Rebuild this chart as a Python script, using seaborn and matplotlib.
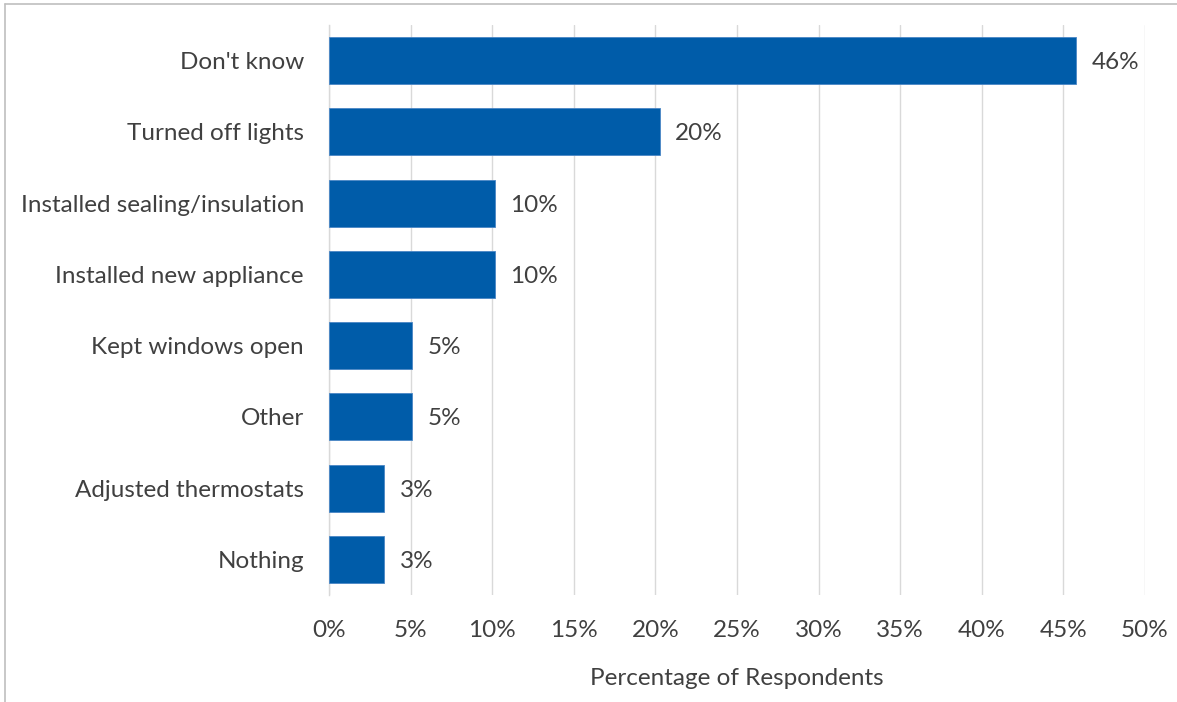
import matplotlib
matplotlib.use("Agg")
import matplotlib.pyplot as plt
import seaborn as sns
import pandas as pd
from matplotlib.lines import Line2D

categories = [
    "Don't know",
    "Turned off lights",
    "Installed sealing/insulation",
    "Installed new appliance",
    "Kept windows open",
    "Other",
    "Adjusted thermostats",
    "Nothing",
]
percentages = [45.8, 20.3, 10.2, 10.2, 5.1, 5.1, 3.4, 3.4]
x_ticks = [0, 5, 10, 15, 20, 25, 30, 35, 40, 45, 50]

df = pd.DataFrame({"action": categories, "pct": percentages})

sns.set_theme(style="white")
plt.rcParams["font.family"] = ["Lato", "DejaVu Sans"]

text_color = "#404040"
bar_color = "#005CA9"
grid_color = "#D9D9D9"
fs = 17.5

fig = plt.figure(figsize=(11.77, 7.02), dpi=100)
ax = fig.add_axes([0.2795, 0.1524, 0.9728 - 0.2795, 0.9644 - 0.1524])

sns.barplot(data=df, y="action", x="pct", orient="h", color=bar_color,
            width=0.66, edgecolor="#4A86C5", linewidth=0.6, saturation=1,
            ax=ax, zorder=3)

ax.set_xlim(0, 50)
ax.set_xticks(x_ticks)
ax.set_xticklabels([f"{t}%" for t in x_ticks], fontsize=fs, color=text_color)
ax.tick_params(axis="x", pad=18, length=0)
ax.tick_params(axis="y", pad=18, length=0, labelsize=fs, labelcolor=text_color)
ax.xaxis.grid(True, color=grid_color, linewidth=1.0, zorder=0)
ax.set_axisbelow(True)
for side in ["top", "right", "bottom"]:
    ax.spines[side].set_visible(False)
ax.spines["left"].set_color(grid_color)
ax.spines["left"].set_linewidth(1.0)

ax.set_ylabel("")
ax.set_xlabel("Percentage of Respondents", fontsize=fs, color=text_color,
              labelpad=19.5)

for i, v in enumerate(percentages):
    ax.annotate(f"{v:.0f}%", xy=(v, i), xytext=(15, -2),
                textcoords="offset pixels", va="center", ha="left",
                fontsize=fs, color=text_color)

# top and left edges of the chart frame
frame = "#BFBFBF"
fig.lines.append(Line2D([0.0045, 1.0], [0.9945, 0.9945], transform=fig.transFigure,
                        color=frame, linewidth=1.2))
fig.lines.append(Line2D([0.0045, 0.0045], [0.0, 0.9945], transform=fig.transFigure,
                        color=frame, linewidth=1.2))

fig.savefig("out.png", dpi=100, facecolor="white")
